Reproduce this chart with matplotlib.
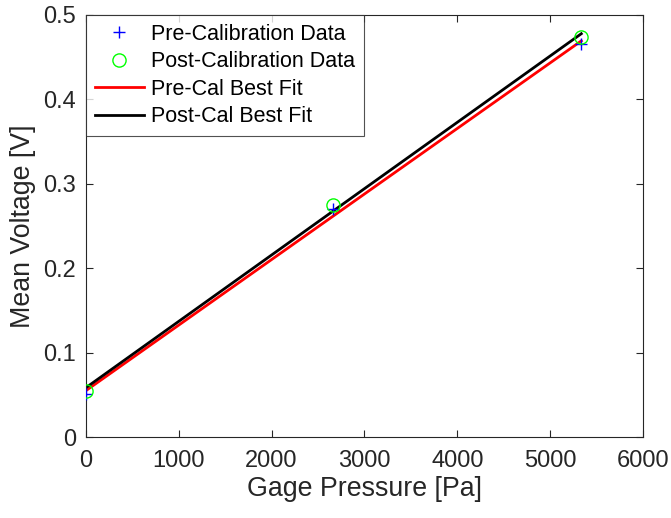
import numpy as np
import matplotlib
matplotlib.use("Agg")
import matplotlib.pyplot as plt

plt.rcParams['font.family'] = ['Liberation Sans', 'DejaVu Sans']

pressure = [0, 2666, 5333]
pre_voltage = [0.051, 0.270, 0.465]
post_voltage = [0.055, 0.275, 0.474]

xticks = [0, 1000, 2000, 3000, 4000, 5000, 6000]
yticks = [0, 0.1, 0.2, 0.3, 0.4, 0.5]
ytick_labels = ['0', '0.1', '0.2', '0.3', '0.4', '0.5']

pre_fit = np.polyfit(pressure, pre_voltage, 1)
post_fit = np.polyfit(pressure, post_voltage, 1)
xfit = np.array([pressure[0], pressure[-1]])

fig = plt.figure(figsize=(6.71, 5.18), dpi=100)
ax = fig.add_axes([85.7/671, 1-437.3/518, (643.3-85.7)/671, (437.3-14.7)/518])

ax.plot(pressure, pre_voltage, '+', color='blue', markersize=9, markeredgewidth=1.0,
        label='Pre-Calibration Data', zorder=3)
ax.plot(pressure, post_voltage, 'o', color=(0, 1, 0), markerfacecolor='none', markersize=9.5,
        markeredgewidth=1.0, label='Post-Calibration Data', zorder=3)
ax.plot(xfit, np.polyval(pre_fit, xfit), '-', color='red', linewidth=2, label='Pre-Cal Best Fit')
ax.plot(xfit, np.polyval(post_fit, xfit), '-', color='black', linewidth=2, label='Post-Cal Best Fit')

ax.set_xlim(0, 6000)
ax.set_ylim(0, 0.5)
ax.set_xticks(xticks)
ax.set_yticks(yticks)
ax.set_xticklabels([str(v) for v in xticks])
ax.set_yticklabels(ytick_labels)

gray = (0.15, 0.15, 0.15)
for s in ax.spines.values():
    s.set_color(gray)
    s.set_linewidth(0.8)
ax.tick_params(direction='in', top=True, right=True, length=5, width=0.8,
               colors=gray, labelsize=17)
ax.tick_params(axis='x', pad=9)
ax.tick_params(axis='y', pad=7)
ax.set_xlabel('Gage Pressure [Pa]', fontsize=19.3, color=gray, labelpad=3)
ax.set_ylabel('Mean Voltage [V]', fontsize=19.3, color=gray, labelpad=5)

leg = ax.legend(loc='upper left', fontsize=15.5, frameon=True, fancybox=False,
                borderaxespad=0, handlelength=2.3, handletextpad=0.33,
                labelspacing=0.3, borderpad=0.42)
leg.get_frame().set_edgecolor(gray)
leg.get_frame().set_linewidth(0.8)

fig.savefig('out.png', dpi=100)
